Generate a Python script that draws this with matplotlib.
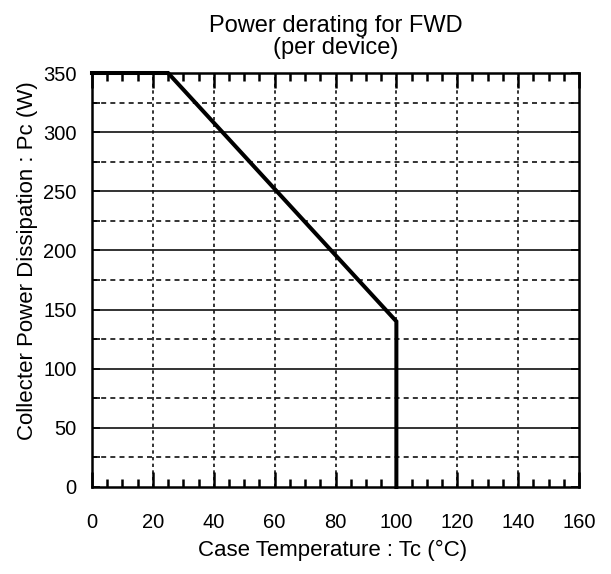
import matplotlib.pyplot as plt
import numpy as np

# derating curve
case_temp = [0, 25, 100, 100]
power_w = [350, 350, 140, 0]

x_major = list(range(0, 161, 20))
x_minor = list(range(0, 161, 5))
y_major = list(range(0, 351, 50))
y_minor = list(range(25, 351, 50))

plt.rcParams['font.family'] = ['Liberation Sans', 'DejaVu Sans']

fig = plt.figure(figsize=(6.11, 5.74), dpi=100)
ax = fig.add_axes([92 / 611, 1 - 487 / 574, 487 / 611, 414 / 574])

ax.set_xlim(0, 160)
ax.set_ylim(0, 350)

# grid
for yv in y_major[1:-1]:
    ax.axhline(yv, color='#111111', lw=1.2, zorder=1)
for yv in y_minor:
    ax.axhline(yv, color='#111111', lw=1.2, ls=(0, (3, 2.5)), zorder=1)
for xv in x_major[1:-1]:
    ax.axvline(xv, color='#111111', lw=1.2, ls=(0, (2, 2)), zorder=1)

ax.plot(case_temp, power_w, color='black', lw=2.9, zorder=3, clip_on=False,
        solid_joinstyle='miter')

ax.set_xticks(x_major)
ax.set_xticks(x_minor, minor=True)
ax.set_yticks(y_major)
ax.set_yticks(y_minor, minor=True)

ax.tick_params(axis='x', which='major', direction='in', length=11, width=1.8,
               top=True, pad=19, labelsize=14.5)
ax.tick_params(axis='x', which='minor', direction='in', length=6, width=1.8,
               top=True)
ax.tick_params(axis='y', which='both', direction='in', length=6, width=1.2,
               right=True, pad=11, labelsize=14.5)

for sp in ax.spines.values():
    sp.set_linewidth(1.8)
    sp.set_zorder(4)

ax.set_title('Power derating for FWD\n(per device)', fontsize=17,
             linespacing=1.0, pad=14)
ax.set_xlabel('Case Temperature : Tc (°C)', fontsize=16)
ax.set_ylabel('Collecter Power Dissipation : Pc (W)', fontsize=16)
ax.xaxis.set_label_coords(0.493, -0.128)
ax.yaxis.set_label_coords(-0.111, 0.548)

fig.savefig('out.png', dpi=100)
